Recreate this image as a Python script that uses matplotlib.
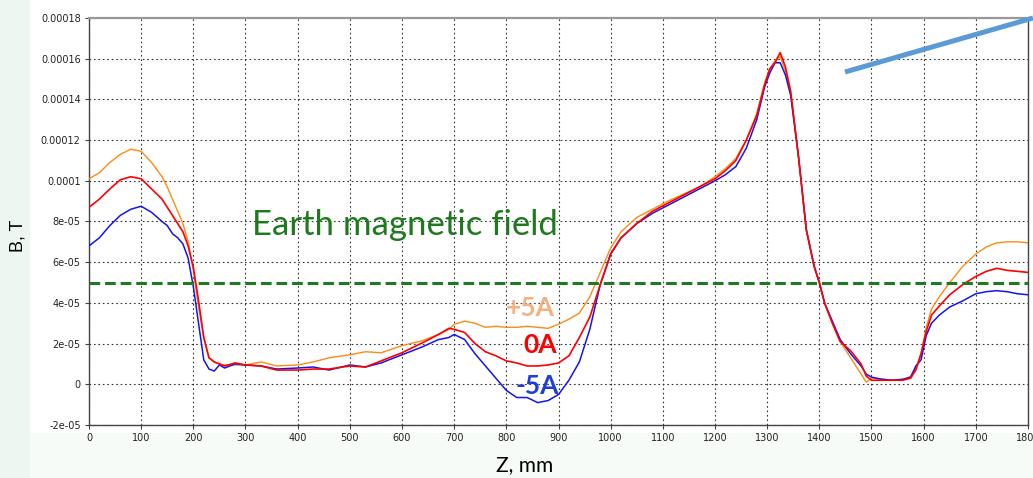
import numpy as np
import matplotlib.pyplot as plt
from matplotlib.patches import Rectangle
from matplotlib.lines import Line2D

# Z positions along the axis, mm
z_mm = [0, 20, 40, 60, 80, 100, 120, 140, 150, 160,
        170, 180, 190, 200, 210, 220, 230, 240, 250, 260,
        280, 300, 330, 360, 400, 430, 460, 500, 530, 560,
        600, 640, 670, 690, 700, 720, 740, 760, 780, 800,
        820, 840, 860, 880, 900, 920, 940, 960, 980, 1000,
        1020, 1050, 1080, 1110, 1140, 1170, 1200, 1220, 1240, 1260,
        1280, 1295, 1305, 1315, 1325, 1335, 1345, 1360, 1375, 1390,
        1400, 1410, 1425, 1440, 1460, 1480, 1490, 1500, 1520, 1540,
        1560, 1575, 1585, 1595, 1605, 1615, 1630, 1650, 1675, 1700,
        1720, 1740, 1760, 1780, 1800]

# field values in units of 1e-5 T
b_plus5 = [10.1, 10.4, 10.9, 11.3, 11.55, 11.45, 10.9, 10.2, 9.7, 9.1,
           8.5, 7.9, 7.0, 5.6, 3.8, 2.3, 1.3, 1.1, 1.0, 0.95,
           0.95, 0.95, 1.1, 0.9, 0.95, 1.1, 1.3, 1.45, 1.6, 1.55,
           1.9, 2.15, 2.45, 2.7, 2.95, 3.1, 3.0, 2.8, 2.85, 2.8,
           2.8, 2.85, 2.8, 2.75, 2.95, 3.2, 3.5, 4.3, 5.5, 6.7,
           7.5, 8.2, 8.6, 9.0, 9.35, 9.7, 10.2, 10.6, 11.1, 12.0,
           13.3, 14.8, 15.5, 15.9, 16.1, 15.4, 14.4, 11.2, 7.6, 5.8,
           5.0, 4.0, 3.0, 2.1, 1.3, 0.5, 0.1, 0.3, 0.25, 0.2,
           0.2, 0.4, 0.8, 1.5, 2.8, 3.7, 4.3, 5.0, 5.8, 6.4,
           6.75, 6.95, 7.0, 7.0, 6.95]

b_zero = [8.7, 9.1, 9.6, 10.05, 10.2, 10.1, 9.6, 9.1, 8.7, 8.3,
          7.9, 7.5, 6.8, 5.75, 4.1, 2.3, 1.3, 1.1, 1.0, 0.9,
          1.05, 0.95, 0.9, 0.7, 0.7, 0.75, 0.75, 0.9, 0.85, 1.15,
          1.55, 2.05, 2.45, 2.75, 2.7, 2.55, 2.0, 1.6, 1.4, 1.15,
          1.05, 0.9, 0.9, 0.95, 1.05, 1.4, 2.3, 3.3, 4.9, 6.4,
          7.2, 7.9, 8.5, 8.9, 9.3, 9.7, 10.1, 10.5, 11.0, 12.0,
          13.2, 14.7, 15.5, 15.8, 16.3, 15.6, 14.4, 11.2, 7.6, 5.8,
          5.0, 4.0, 3.0, 2.1, 1.65, 1.0, 0.4, 0.2, 0.2, 0.2,
          0.2, 0.3, 0.7, 1.5, 2.6, 3.4, 3.85, 4.4, 4.9, 5.3,
          5.55, 5.7, 5.6, 5.55, 5.5]

b_minus5 = [6.8, 7.2, 7.8, 8.3, 8.6, 8.75, 8.45, 8.0, 7.8, 7.4,
            7.2, 6.9, 6.2, 4.8, 3.0, 1.2, 0.75, 0.65, 0.95, 0.8,
            1.0, 0.95, 0.9, 0.75, 0.8, 0.85, 0.7, 0.95, 0.85, 1.05,
            1.45, 1.85, 2.2, 2.3, 2.45, 2.2, 1.5, 0.9, 0.3, -0.3,
            -0.65, -0.65, -0.9, -0.8, -0.5, 0.2, 1.1, 2.7, 4.9, 6.4,
            7.2, 7.9, 8.4, 8.8, 9.2, 9.6, 10.0, 10.3, 10.7, 11.6,
            13.0, 14.6, 15.3, 15.8, 15.8, 15.2, 14.2, 11.2, 7.6, 5.8,
            5.0, 4.0, 3.1, 2.2, 1.5, 0.9, 0.5, 0.35, 0.25, 0.2,
            0.25, 0.35, 0.9, 1.2, 2.4, 3.0, 3.4, 3.8, 4.1, 4.45,
            4.55, 4.6, 4.55, 4.45, 4.4]

earth_field = 5e-05
y_ticks = [-2e-05, 0, 2e-05, 4e-05, 6e-05, 8e-05, 0.0001, 0.00012, 0.00014, 0.00016, 0.00018]
y_tick_labels = ['-2e-05', '0', '2e-05', '4e-05', '6e-05', '8e-05',
                 '0.0001', '0.00012', '0.00014', '0.00016', '0.00018']
x_ticks = list(range(0, 1801, 100))

z = np.array(z_mm)
scale = 1e-5

fig = plt.figure(figsize=(10.33, 4.78), dpi=100, facecolor='#f6fbf8')
# white slide box behind the chart, drawn below everything else
fig.patches.append(Rectangle((30 / 1033, 45 / 478), 1, 1, transform=fig.transFigure,
                             facecolor='white', edgecolor='none', zorder=-10))
fig.patches.append(Rectangle((0, 0), 30 / 1033, 1, transform=fig.transFigure,
                             facecolor='#eef6f1', edgecolor='none', zorder=-10))

ax = fig.add_axes([89 / 1033, 53 / 478, 939 / 1033, 407 / 478])
ax.set_facecolor('white')

ax.plot(z, np.array(b_plus5) * scale, color='#ff8a12', lw=1.0, zorder=3)
ax.plot(z, np.array(b_minus5) * scale, color='#1414f0', lw=1.1, zorder=4)
ax.plot(z, np.array(b_zero) * scale, color='#ff0000', lw=1.2, zorder=5)

ax.axhline(earth_field, color='#1f7a1f', lw=2.2, dashes=(3.5, 1.6), zorder=6)

ax.set_xlim(0, 1800)
ax.set_ylim(-2e-05, 0.00018)
ax.set_xticks(x_ticks)
ax.set_xticklabels([str(v) for v in x_ticks])
ax.set_yticks(y_ticks)
ax.set_yticklabels(y_tick_labels)
ax.tick_params(labelsize=7, length=3, color='#444444', pad=3, labelcolor='#222222')
ax.grid(True, color='#333333', linestyle=(0, (1.5, 2.5)), linewidth=0.8)

for side in ['left', 'bottom', 'right']:
    ax.spines[side].set_color('#444444')
    ax.spines[side].set_linewidth(1.0)
ax.spines['top'].set_color('#999999')
ax.spines['top'].set_linewidth(1.6)

ax.text(605, 7.85e-05, 'Earth magnetic field', color='#1f7a1f', fontsize=25,
        family=['Lato', 'DejaVu Sans'], ha='center', va='center', zorder=7)
ax.text(845, 3.73e-05, '+5A', color='#f4b183', fontsize=19, fontweight='bold',
        family=['Lato', 'DejaVu Sans'], ha='center', va='center', zorder=7)
ax.text(865, 1.92e-05, '0A', color='#ff0000', fontsize=19, fontweight='bold',
        family=['Lato', 'DejaVu Sans'], ha='center', va='center', zorder=7)
ax.text(860, -0.1e-05, '-5A', color='#1f3fd0', fontsize=19, fontweight='bold',
        family=['Lato', 'DejaVu Sans'], ha='center', va='center', zorder=7)

fig.text(18 / 1033, 1 - 236 / 478, 'B, T', rotation=90, fontsize=13,
         family=['Liberation Sans', 'DejaVu Sans'], ha='center', va='center')
fig.text(525 / 1033, 1 - 465 / 478, 'Z, mm', fontsize=15,
         family=['Lato', 'DejaVu Sans'], ha='center', va='center')

# pointer line in the top right corner of the slide
fig.add_artist(Line2D([845 / 1033, 1.0], [1 - 72 / 478, 1 - 18 / 478],
                      transform=fig.transFigure, color='#5b9bd5', lw=3.6,
                      solid_capstyle='butt'))

fig.savefig('out.png', dpi=100, facecolor=fig.get_facecolor())
